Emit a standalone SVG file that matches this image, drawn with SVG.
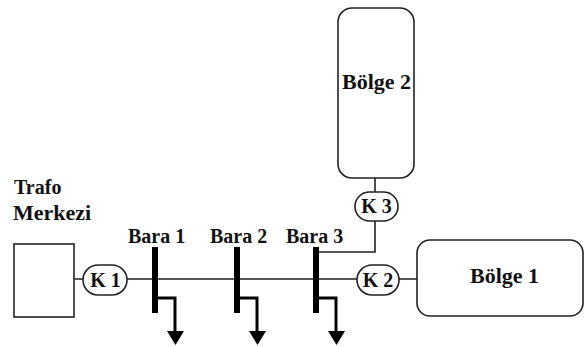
<svg xmlns="http://www.w3.org/2000/svg" width="584" height="347" viewBox="0 0 584 347">
<style>
.s{fill:#fff;stroke:#222;stroke-width:1.6}
.w{fill:none;stroke:#222;stroke-width:1.6}
.b{fill:none;stroke:#000;stroke-width:6}
.l{fill:none;stroke:#000;stroke-width:3}
.h{fill:#000}
text{font-family:"Liberation Serif",serif;font-weight:bold;fill:#111}
.t{font-size:20px}
.n{font-size:22px}
.k{font-size:20px;text-anchor:middle}
</style>
<rect width="584" height="347" fill="#fff"/>
<g id="connectors">
<path class="w" d="M74 279H83M127 279H357M399 279H417"/>
<path class="w" d="M375 178V192M375 221V252H319"/>
</g>
<g id="trafo"><rect class="s" x="14" y="244" width="60" height="73"/>
<text class="t" x="14" y="194">Trafo</text><text class="n" x="13" y="220">Merkezi</text></g>
<g id="k1"><rect class="s" x="83" y="265" width="44" height="30" rx="15"/><text class="k" x="105.500" y="287">K 1</text></g>
<g id="k2"><rect class="s" x="357" y="265" width="42" height="30" rx="15"/><text class="k" x="378" y="287">K 2</text></g>
<g id="k3"><rect class="s" x="355" y="192" width="43" height="29" rx="14.500"/><text class="k" x="376.500" y="213">K 3</text></g>
<g id="bara1"><text class="t" x="128" y="243">Bara 1</text><path class="b" d="M155 247V313"/><path class="l" d="M155 298H175V332"/><path class="h" d="M167 331H184L175.500 345Z"/></g>
<g id="bara2"><text class="t" x="210" y="243">Bara 2</text><path class="b" d="M237 247V313"/><path class="l" d="M237 298H257V332"/><path class="h" d="M249 331H266L257.500 345Z"/></g>
<g id="bara3"><text class="t" x="286" y="243">Bara 3</text><path class="b" d="M316 247V313"/><path class="l" d="M316 298H336V332"/><path class="h" d="M328 331H345L336.500 345Z"/></g>
<g id="bolge1"><rect class="s" x="417" y="240" width="166" height="76" rx="13"/><text class="n" x="470" y="283">Bölge 1</text></g>
<g id="bolge2"><rect class="s" x="338" y="8" width="76" height="170" rx="14"/><text class="n" x="342" y="89">Bölge 2</text></g>
</svg>
